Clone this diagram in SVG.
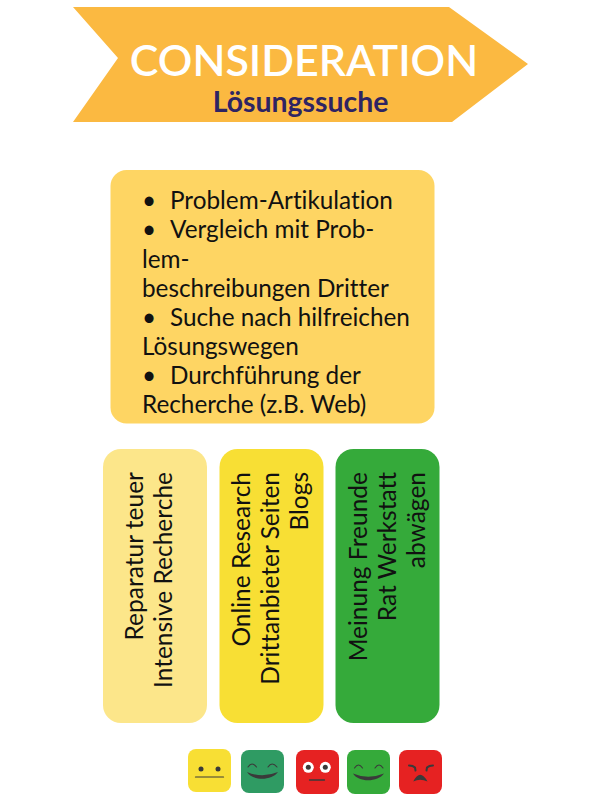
<svg xmlns="http://www.w3.org/2000/svg" width="600" height="800" viewBox="0 0 600 800">
<style>
text{font-family:Lato,"Open Sans",sans-serif;font-variant-ligatures:none}
.t{font-size:24.3px;fill:#111}
.v{font-size:24.5px;fill:#111;text-anchor:end}
.m{fill:none;stroke:#3a3a3a;stroke-linecap:round}
.e{fill:#3a3a3a}
.s{fill:#3a3a3a}
</style>
<rect width="600" height="800" fill="#fff"/>
<g id="banner">
<path d="M73 7H449L528 64L452 122H73L118 58Z" fill="#fbb941"/>
<text x="304" y="76" font-size="43" font-weight="600" fill="#fff" text-anchor="middle">CONSIDERATION</text>
<text x="300.500" y="112" font-size="28.400" font-weight="700" fill="#2e2463" text-anchor="middle">Lösungssuche</text>
</g>
<g id="list">
<rect x="110.500" y="170" width="324" height="253.500" rx="16" fill="#fed563"/>
<text class="t" x="142" y="209">•</text><text class="t" x="170" y="209">Problem-Artikulation</text>
<text class="t" x="142" y="238">•</text><text class="t" x="170" y="238">Vergleich mit Prob-</text>
<text class="t" x="142" y="267.500">lem-</text>
<text class="t" x="142" y="296.500">beschreibungen Dritter</text>
<text class="t" x="142" y="326">•</text><text class="t" x="170" y="326">Suche nach hilfreichen</text>
<text class="t" x="142" y="355">Lösungswegen</text>
<text class="t" x="142" y="384">•</text><text class="t" x="170" y="384">Durchführung der</text>
<text class="t" x="142" y="413">Recherche (z.B. Web)</text>
</g>
<g id="card1">
<rect x="103" y="449" width="104" height="274" rx="18" fill="#fce68a"/>
<text class="v" transform="translate(143 472) rotate(-90)">Reparatur teuer</text>
<text class="v" transform="translate(172 472) rotate(-90)">Intensive Recherche</text>
</g>
<g id="card2">
<rect x="219.500" y="449" width="104" height="274" rx="18" fill="#f8df34"/>
<text class="v" transform="translate(250 472) rotate(-90)">Online Research</text>
<text class="v" transform="translate(279 472) rotate(-90)">Drittanbieter Seiten</text>
<text class="v" transform="translate(308 472) rotate(-90)">Blogs</text>
</g>
<g id="card3">
<rect x="335.500" y="449" width="104" height="274" rx="18" fill="#35aa3a"/>
<text class="v" transform="translate(367 472) rotate(-90)">Meinung Freunde</text>
<text class="v" transform="translate(396 472) rotate(-90)">Rat Werkstatt</text>
<text class="v" transform="translate(425 472) rotate(-90)">abwägen</text>
</g>
<g id="face1">
<rect x="188" y="749" width="43" height="43" rx="8" fill="#f8df34"/>
<circle class="e" cx="201" cy="769" r="2.500"/><circle class="e" cx="218" cy="769" r="2.500"/>
<path class="m" stroke-width="1.200" d="M195.500 777H223.500"/>
</g>
<g id="face2">
<rect x="241" y="750" width="43" height="43" rx="8" fill="#2f9b63"/>
<path class="m" stroke-width="1.100" d="M248 767Q252 761 256.500 767M268 767Q272 761 277 767"/>
<path class="s" d="M247 772Q262 778.500 278 772C272 781 252 781 247 772Z"/>
</g>
<g id="face3">
<rect x="296" y="750" width="43" height="44" rx="8" fill="#e62222"/>
<circle cx="308.300" cy="767.300" r="5.500" fill="#fff"/><circle cx="325.300" cy="767.300" r="5.500" fill="#fff"/>
<circle class="e" cx="308.300" cy="767.300" r="2.500"/><circle class="e" cx="325.300" cy="767.300" r="2.500"/>
<path class="m" stroke-width="1.300" d="M309.500 780H324.500"/>
</g>
<g id="face4">
<rect x="347" y="750" width="43" height="44" rx="8" fill="#35aa3a"/>
<path class="m" stroke-width="1.100" d="M354.500 768Q358.500 762 362.500 768M375 768Q379 762 383 768"/>
<path class="s" d="M353 773.500Q368 780 384 773.500C378 782.500 358 782.500 353 773.500Z"/>
</g>
<g id="face5">
<rect x="399" y="750" width="43" height="44" rx="8" fill="#e62222"/>
<path class="m" stroke-width="2" d="M409 765.500Q413 765.500 415 767.500L415.500 770.500M433 765.500Q429 765.500 427 767.500L426.500 770.500"/>
<path class="s" d="M413.300 781.500Q420 768 427.500 781.500Q420 778 413.300 781.500Z"/>
</g>
</svg>
